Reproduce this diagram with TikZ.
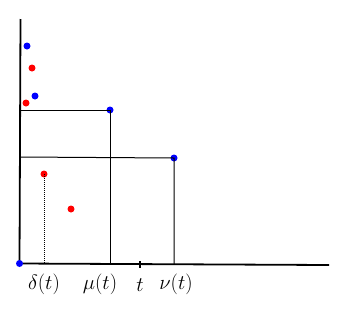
\documentclass[tikz,border=0pt]{standalone}
\usepackage{amsmath}
\begin{document}
\begin{tikzpicture}[x=1pt,y=-1pt,
  axis/.style={line width=1.8pt,black},
  thin line/.style={line width=1pt,black},
  bdot/.style={circle,fill=blue,inner sep=0pt,minimum size=7pt},
  rdot/.style={circle,fill=red,inner sep=0pt,minimum size=7pt},
  lab/.style={font=\fontsize{21}{24}\selectfont,inner sep=0pt}]
\useasboundingbox (0,0) rectangle (342,319);
% axes
\coordinate (O) at (19.5,263.5);
\coordinate (ytop) at (20.5,19);
\coordinate (xend) at (329,265);
\draw[axis] (O) -- (ytop);
\draw[axis] (O) -- (xend);
% points
\node[bdot] (b1) at (27,46) {};
\node[rdot] (r1) at (32,68) {};
\node[bdot] (b2) at (35,96) {};
\node[rdot] (r2) at (26,103) {};
\node[bdot] (mu) at (110,110) {};
\node[bdot] (nu) at (174,158) {};
\node[rdot] (r3) at (44,174) {};
\node[rdot] (r4) at (71,209) {};
% guide lines
\coordinate (muy) at (20,110);
\coordinate (mux) at (110,263.5);
\coordinate (nuy) at (20,157);
\coordinate (nux) at (174,264);
\coordinate (dx) at (44,263.5);
\draw[thin line] (muy) -- (mu.center) -- (mux);
\draw[thin line] (nuy) -- (nu.center) -- (nux);
\draw[thin line,densely dotted,line width=0.8pt] (r3.center) -- (dx);
% tick
\coordinate (tk) at (140,264);
\draw[line width=1.5pt] ([yshift=-3.5]tk) -- ([yshift=3.5]tk);
\node[bdot] (o) at (O) {};
% labels
\node[lab] (ld) at (44,284) {$\delta(t)$};
\node[lab] (lm) at (100,284) {$\mu(t)$};
\node[lab] (lt) at (140,285) {$t$};
\node[lab] (ln) at (176,284) {$\nu(t)$};
\end{tikzpicture}
\end{document}
